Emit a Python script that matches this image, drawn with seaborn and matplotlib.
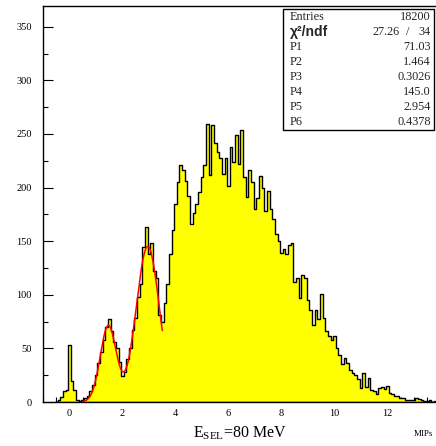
import numpy as np
import pandas as pd
import matplotlib
matplotlib.use("Agg")
import matplotlib.pyplot as plt
from matplotlib.ticker import MultipleLocator
from matplotlib.patches import Rectangle
import seaborn as sns

# ---- histogram contents (bin width 0.1 MIP, first bin centred at -0.5) ----
bin_first_center = -0.5
bin_width = 0.1
counts = [
    0, 2, 5, 10, 11, 53, 20, 11, 2, 1,            # -0.5 .. 0.4
    2, 4, 6, 10, 16, 25, 36, 47, 58, 70,          # 0.5 .. 1.4
    77, 66, 56, 50, 37, 24, 28, 40, 50, 67,       # 1.5 .. 2.4
    78, 98, 110, 145, 163, 138, 148, 122, 116, 81,  # 2.5 .. 3.4
    75, 92, 110, 138, 160, 185, 205, 221, 216, 206,  # 3.5 .. 4.4
    192, 166, 176, 185, 196, 210, 221, 259, 212, 258,  # 4.5 .. 5.4
    242, 233, 228, 213, 228, 201, 238, 224, 249, 222,  # 5.5 .. 6.4
    254, 210, 191, 216, 205, 180, 190, 211, 200, 178,  # 6.5 .. 7.4
    197, 180, 171, 157, 150, 139, 143, 138, 146, 148,  # 7.5 .. 8.4
    112, 116, 97, 118, 116, 95, 86, 72, 86, 77,   # 8.5 .. 9.4
    101, 78, 66, 62, 58, 62, 50, 44, 35, 41,      # 9.5 .. 10.4
    36, 30, 27, 25, 21, 13, 27, 14, 22, 11,       # 10.5 .. 11.4
    10, 7, 13, 14, 12, 15, 8, 7, 6, 6,            # 11.5 .. 12.4
    4, 4, 2, 2, 2, 2, 4, 3, 2, 1,                 # 12.5 .. 13.4
    1, 2, 0, 1, 0,                                # 13.5 .. 13.9
]

# ---- double-Gaussian fit result ----
fit_params = [71.03, 1.464, 0.3026, 145.0, 2.954, 0.4378]
fit_range = (0.5, 3.5)

# ---- statistics box ----
stat_names = ["Entries", "P1", "P2", "P3", "P4", "P5", "P6"]
stat_values = ["18200", "71.03", "1.464", "0.3026", "145.0", "2.954", "0.4378"]
chi2_text = ("27.26", "34")

x_ticks = [0, 2, 4, 6, 8, 10, 12, 14]
y_ticks = [0, 50, 100, 150, 200, 250, 300, 350]

sns.set_theme(style="ticks")
plt.rcParams["font.family"] = ["Liberation Serif", "DejaVu Serif"]
plt.rcParams["mathtext.fontset"] = "custom"
plt.rcParams["mathtext.rm"] = "Liberation Serif"
plt.rcParams["mathtext.it"] = "Liberation Serif:italic"

W, H = 436, 446
fig = plt.figure(figsize=(W / 100, H / 100), dpi=100)
fig.patch.set_facecolor("white")
ax = fig.add_axes([43 / W, 44 / H, 397.5 / W, 396 / H])
ax.set_facecolor("white")

n_bins = len(counts)
centers = bin_first_center + bin_width * np.arange(n_bins)
edges = [round(c - bin_width / 2, 3) for c in centers] + [round(centers[-1] + bin_width / 2, 3)]
df = pd.DataFrame({"mip": centers, "n": np.asarray(counts, dtype=float)})

sns.histplot(data=df, x="mip", weights="n", bins=edges, element="step",
             fill=True, color="#ffff00", alpha=1.0, edgecolor="black",
             linewidth=1.0, ax=ax)


def double_gauss(x, p):
    return (p[0] * np.exp(-0.5 * ((x - p[1]) / p[2]) ** 2)
            + p[3] * np.exp(-0.5 * ((x - p[4]) / p[5]) ** 2))


xf = np.linspace(fit_range[0], fit_range[1], 400)
sns.lineplot(x=xf, y=double_gauss(xf, fit_params), color="#ff0000",
             linewidth=1.1, ax=ax)

ax.set_xlim(-1, 14)
ax.set_ylim(0, 369.3)
ax.set_xticks(x_ticks)
ax.set_yticks(y_ticks)
ax.xaxis.set_minor_locator(MultipleLocator(0.5))
ax.yaxis.set_minor_locator(MultipleLocator(25))
ax.tick_params(which="both", direction="in", top=False, right=False,
               colors="black", width=0.8)
ax.tick_params(which="major", length=7)
ax.tick_params(which="minor", length=3.5)
ax.tick_params(axis="x", which="major", pad=5, labelsize=7.5)
ax.tick_params(axis="y", which="major", pad=8, labelsize=7.5)
ax.set_xlabel("")
ax.set_ylabel("")
for s in ax.spines.values():
    s.set_color("black")
    s.set_linewidth(1.0)
    s.set_visible(True)

# axis titles
fig.text(240 / W, 1 - 433 / H, r"E$_{\mathrm{SEL}}$=80 MeV", ha="center",
         va="center", fontsize=11.5, color="black")
fig.text(414 / W, 1 - 434 / H, "MIPs", ha="left", va="center",
         fontsize=6.5, color="black")

# statistics box
bx0, bx1, by0, by1 = 283, 434, 9, 130
fig.add_artist(Rectangle((bx0 / W, 1 - by1 / H), (bx1 - bx0) / W,
                         (by1 - by0) / H, transform=fig.transFigure,
                         facecolor="white", edgecolor="black", linewidth=1.0,
                         zorder=10))
row_h = (by1 - by0) / 8
fs = 8.8
rows = [(stat_names[0], stat_values[0]), None] + list(zip(stat_names[1:], stat_values[1:]))
for i, row in enumerate(rows):
    yc = 1 - (by0 + row_h * (i + 0.5)) / H
    if row is None:
        fig.text(290 / W, yc, "χ²/ndf", ha="left", va="center", fontsize=10,
                 fontweight="bold", family=["Liberation Sans", "DejaVu Sans"],
                 zorder=11)
        fig.text(400 / W, yc, chi2_text[0], ha="right", va="center",
                 fontsize=fs, zorder=11)
        fig.text(408 / W, yc, "/", ha="center", va="center", fontsize=fs,
                 zorder=11)
        fig.text(431 / W, yc, chi2_text[1], ha="right", va="center",
                 fontsize=fs, zorder=11)
    else:
        fig.text(290 / W, yc, row[0], ha="left", va="center", fontsize=fs,
                 zorder=11)
        fig.text(431 / W, yc, row[1], ha="right", va="center", fontsize=fs,
                 zorder=11)

fig.savefig("out.png", dpi=100, facecolor="white")
